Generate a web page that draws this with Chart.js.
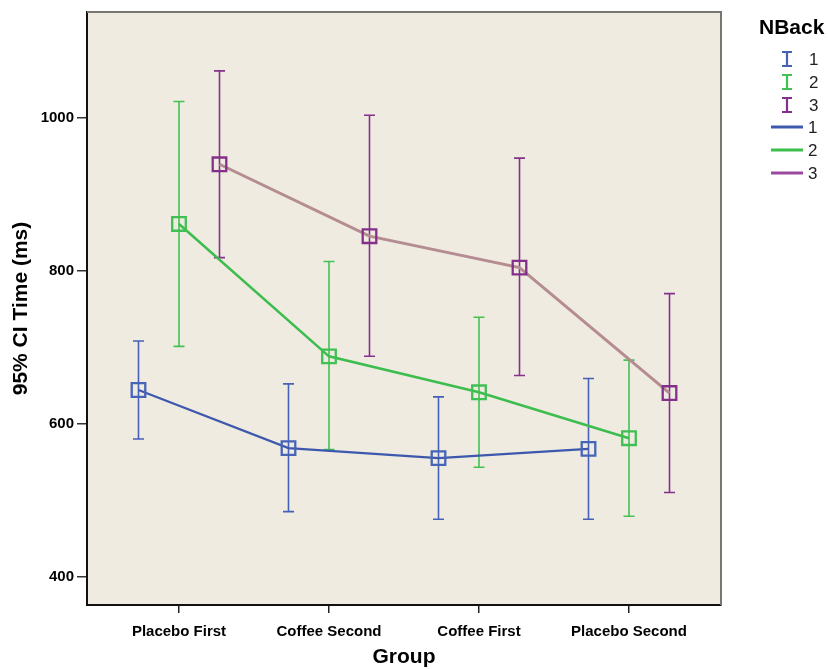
<!DOCTYPE html>
<html>
<head>
<meta charset="utf-8">
<script src="https://cdn.jsdelivr.net/npm/chart.js@4/dist/chart.umd.min.js"></script>
<style>
  body { margin: 0; background: #fff; }
</style>
</head>
<body>
<canvas id="nback" width="828" height="669"></canvas>
<script>
// values (ms)
var groups = ['Placebo First', 'Coffee Second', 'Coffee First', 'Placebo Second'];
var nbackLevels = ['1', '2', '3'];
var yTicks = [400, 600, 800, 1000];

var mean1 = [644, 568, 555, 567];
var lower1 = [580, 485, 475, 475];
var upper1 = [708, 652, 635, 659];

var mean2 = [861, 688, 641, 581];
var lower2 = [701, 566, 543, 479];
var upper2 = [1021, 812, 739, 683];

var mean3 = [939, 845, 804, 640];
var lower3 = [817, 688, 663, 510];
var upper3 = [1061, 1003, 947, 770];

var FONT = '"Liberation Sans", Arial, sans-serif';
Chart.defaults.font.family = FONT;

// styling per NBack level
var dodge = [-0.27, 0, 0.27];
var lineColors = ['#3d58ad', '#3cbd4e', '#b48c92'];
var markColors = ['#4664b8', '#3fc052', '#84308a'];
var barColors = ['#4662b8', '#43c155', '#83318a'];
var legendLineColors = ['#3d58ad', '#3cbd4e', '#9a4a9c'];
var plotBg = '#efebe0';

var means = [mean1, mean2, mean3],
    lowers = [lower1, lower2, lower3],
    uppers = [upper1, upper2, upper3];

var datasets = means.map(function(m, s) {
    return {
        label: nbackLevels[s],
        data: m.map(function(v, i) { return {x: i + dodge[s], y: v}; }),
        borderColor: lineColors[s],
        borderWidth: s === 2 ? 3 : (s === 1 ? 2.5 : 2.2),
        pointStyle: 'rect',
        pointRadius: 9.6,
        pointBorderWidth: 2.3,
        pointBorderColor: markColors[s],
        pointBackgroundColor: 'rgba(0,0,0,0)',
        tension: 0,
        fill: false
    };
});

// background + top/right frame of the plot area
var framePlugin = {
    id: 'frame',
    beforeDraw: function(chart) {
        var a = chart.chartArea, ctx = chart.ctx;
        ctx.save();
        ctx.fillStyle = plotBg;
        ctx.fillRect(a.left, a.top, a.right - a.left, a.bottom - a.top);
        ctx.restore();
    },
    afterDraw: function(chart) {
        var a = chart.chartArea, ctx = chart.ctx;
        ctx.save();
        ctx.strokeStyle = '#77776f';
        ctx.lineWidth = 2;
        ctx.beginPath();
        ctx.moveTo(a.left, a.top);
        ctx.lineTo(a.right, a.top);
        ctx.lineTo(a.right, a.bottom);
        ctx.stroke();
        ctx.restore();
    }
};

// 95% CI whiskers
var errorBarPlugin = {
    id: 'errorBars',
    beforeDatasetsDraw: function(chart) {
        var xs = chart.scales.x, ys = chart.scales.y, ctx = chart.ctx;
        var cap = 5.5;
        ctx.save();
        ctx.lineWidth = 1.6;
        for (var s = 0; s < 3; s++) {
            ctx.strokeStyle = barColors[s];
            for (var i = 0; i < groups.length; i++) {
                var px = xs.getPixelForValue(i + dodge[s]);
                var lo = ys.getPixelForValue(lowers[s][i]);
                var hi = ys.getPixelForValue(uppers[s][i]);
                ctx.beginPath();
                ctx.moveTo(px, lo); ctx.lineTo(px, hi);
                ctx.moveTo(px - cap, lo); ctx.lineTo(px + cap, lo);
                ctx.moveTo(px - cap, hi); ctx.lineTo(px + cap, hi);
                ctx.stroke();
            }
        }
        ctx.restore();
    }
};

// SPSS-like legend on the right
var legendPlugin = {
    id: 'nbackLegend',
    afterDraw: function(chart) {
        var ctx = chart.ctx;
        ctx.save();
        ctx.fillStyle = '#000';
        ctx.textBaseline = 'middle';
        ctx.textAlign = 'left';
        ctx.font = 'bold 21px ' + FONT;
        ctx.fillText('NBack', 759, 28);
        ctx.font = '17px ' + FONT;
        for (var s = 0; s < 3; s++) {
            var cy = 59 + s * 23;
            ctx.strokeStyle = barColors[s];
            ctx.lineWidth = 2.2;
            ctx.beginPath();
            ctx.moveTo(787, cy - 7); ctx.lineTo(787, cy + 7);
            ctx.moveTo(782, cy - 7); ctx.lineTo(792, cy - 7);
            ctx.moveTo(782, cy + 7); ctx.lineTo(792, cy + 7);
            ctx.stroke();
            ctx.fillStyle = '#222';
            ctx.fillText(nbackLevels[s], 809, cy + 1);
        }
        for (var s = 0; s < 3; s++) {
            var cy = 127 + s * 23;
            ctx.strokeStyle = legendLineColors[s];
            ctx.lineWidth = 3;
            ctx.beginPath();
            ctx.moveTo(771, cy); ctx.lineTo(803, cy);
            ctx.stroke();
            ctx.fillStyle = '#222';
            ctx.fillText(nbackLevels[s], 808, cy + 1);
        }
        ctx.restore();
    }
};

var ctx = document.getElementById('nback').getContext('2d');
var nbackChart = new Chart(ctx, {
    type: 'line',
    data: {datasets: datasets},
    plugins: [framePlugin, errorBarPlugin, legendPlugin],
    options: {
        responsive: false,
        animation: false,
        layout: {padding: {top: 9, right: 107, left: 0, bottom: 0}},
        plugins: {
            legend: {display: false},
            tooltip: {enabled: false}
        },
        scales: {
            x: {
                type: 'linear',
                min: -0.6133,
                max: 3.6133,
                afterBuildTicks: function(scale) {
                    scale.ticks = groups.map(function(g, i) { return {value: i}; });
                },
                afterFit: function(scale) { scale.height = 64; },
                grid: {drawOnChartArea: false, drawTicks: true, tickLength: 8, color: '#222', lineWidth: 1.5},
                border: {display: true, color: '#111', width: 2},
                ticks: {
                    autoSkip: false,
                    maxRotation: 0,
                    padding: 10,
                    color: '#000',
                    font: {size: 15, weight: 'bold'},
                    callback: function(v) { return groups[v]; }
                },
                title: {
                    display: true,
                    text: 'Group',
                    color: '#000',
                    font: {size: 21, weight: 'bold', lineHeight: 1.1},
                    padding: {top: 0, bottom: 0}
                }
            },
            y: {
                min: 363,
                max: 1138,
                afterBuildTicks: function(scale) {
                    scale.ticks = yTicks.map(function(v) { return {value: v}; });
                },
                afterFit: function(scale) { scale.width = 87; },
                grid: {drawOnChartArea: false, drawTicks: true, tickLength: 10, color: '#333', lineWidth: 1.5},
                border: {display: true, color: '#111', width: 2},
                ticks: {
                    padding: 3,
                    color: '#000',
                    font: {size: 15, weight: 'bold'},
                    callback: function(v) { return String(v); }
                },
                title: {
                    display: true,
                    text: '95% CI Time (ms)',
                    color: '#000',
                    font: {size: 21, weight: 'bold', lineHeight: 1.2},
                    padding: {top: 9, bottom: 0}
                }
            }
        }
    }
});
</script>
</body>
</html>
